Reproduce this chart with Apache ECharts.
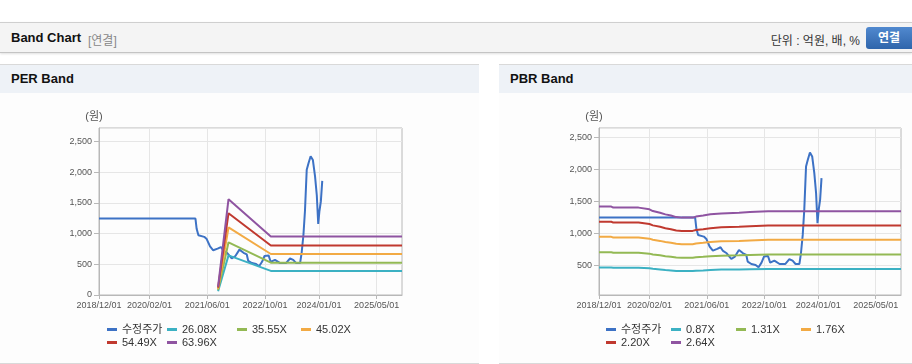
<!DOCTYPE html>
<html>
<head>
<meta charset="utf-8">
<script src="https://cdn.jsdelivr.net/npm/echarts@6/dist/echarts.min.js"></script>
<style>
body{margin:0;width:912px;height:364px;position:relative;overflow:hidden;background:#fff;font-family:"Liberation Sans","Noto Sans CJK KR",sans-serif;}
.topbar{position:absolute;left:0;top:22px;width:912px;height:29px;background:#f4f4f4;border-top:1px solid #cfcfcf;border-bottom:1px solid #c4c4c4;box-shadow:0 1px 2px rgba(0,0,0,.12);}
.topbar .tit{position:absolute;left:11px;top:7px;font-size:13px;font-weight:bold;color:#111;}
.topbar .sub{position:absolute;left:88px;top:8px;font-size:12px;color:#888;}
.topbar .unit{position:absolute;right:52px;top:8px;font-size:12px;color:#333;}
.topbar .btn{position:absolute;left:866px;top:4px;width:46px;height:22px;line-height:22px;text-align:center;border-radius:3px 0 0 3px;background:linear-gradient(#5189cf,#2f65ab);color:#fff;font-size:12px;font-weight:bold;}
.panel{position:absolute;top:64px;height:298px;border-top:1px solid #d9d9d9;border-bottom:1px solid #d9d9d9;background:#fdfdfd;}
.panel .hd{height:28px;background:#eef2f7;font-size:13px;font-weight:bold;color:#111;line-height:28px;padding-left:11px;}
.chart{position:absolute;left:0;top:28px;height:270px;}
</style>
</head>
<body>
<div class="topbar">
  <span class="tit">Band Chart</span><span class="sub">[연결]</span>
  <span class="unit">단위 : 억원, 배, %</span>
  <span class="btn">연결</span>
</div>
<div class="panel" style="left:0;width:479px;"><div class="hd">PER Band</div><div class="chart" id="perChart" style="width:479px;"></div></div>
<div class="panel" style="left:499px;width:413px;"><div class="hd">PBR Band</div><div class="chart" id="pbrChart" style="width:413px;"></div></div>

<script>
// x축 눈금
var xTickLabels = ['2018/12/01','2020/02/01','2021/06/01','2022/10/01','2024/01/01','2025/05/01'];
var xStart = '2018-12-01';
var xEnd = '2025-12-01';

// 수정주가
var priceDates = ['2018-12-01','2021-02-22','2021-03-04','2021-03-19','2021-05-07','2021-05-28','2021-06-25','2021-07-22','2021-08-28','2021-09-25',
	'2021-10-16','2021-11-16','2021-12-25','2022-01-25','2022-02-28','2022-04-04','2022-05-01','2022-05-13','2022-06-13','2022-07-19',
	'2022-08-13','2022-09-07','2022-09-28','2022-11-01','2022-11-19','2022-12-25','2023-02-07','2023-03-28','2023-05-01','2023-05-28',
	'2023-06-22','2023-07-25','2023-08-07','2023-08-22','2023-09-04','2023-09-19','2023-10-04','2023-10-22','2023-11-10','2023-11-28',
	'2023-12-13','2023-12-25','2024-01-04','2024-01-16','2024-01-28'];
var priceValues = [1244,1244,1078,973,947,911,791,728,755,781,
	723,687,598,635,739,687,661,557,520,505,
	469,541,635,645,541,573,520,520,594,573,
	520,520,687,973,1364,2041,2145,2260,2198,1937,
	1625,1156,1364,1520,1859];

// PER 밴드
var perNames = ['26.08X','35.55X','45.02X','54.49X','63.96X'];
var perDates = ['2021-09-01','2021-11-28','2022-11-20','2025-12-01'];
var per2608 = [62, 645, 392, 392];
var per3555 = [80, 858, 527, 527];
var per4502 = [100, 1100, 668, 668];
var per5449 = [120, 1332, 806, 806];
var per6396 = [138, 1561, 951, 951];

// PBR 밴드
var pbrNames = ['0.87X','1.31X','1.76X','2.20X','2.64X'];
var pbrDates = ['2018-12-01','2019-03-15','2019-04-01','2019-11-01','2019-11-15','2020-02-01','2020-03-01','2020-05-01','2020-06-15','2020-08-01',
	'2020-09-15','2020-11-01','2021-02-01','2021-03-01','2021-05-01','2021-07-01','2021-10-01','2022-03-01','2022-06-01','2022-11-01','2025-12-01'];
var pbr087 = [466,466,461,461,455,452,444,435,426,420,412,410,410,415,420,426,432,435,438,443,443];
var pbr131 = [702,702,694,694,685,681,668,655,642,633,621,617,617,625,633,642,650,655,660,667,667];
var pbr176 = [943,943,933,933,920,915,898,880,862,850,834,829,829,840,850,862,873,880,887,896,896];
var pbr220 = [1179,1179,1166,1166,1151,1144,1122,1100,1078,1063,1043,1036,1036,1049,1063,1078,1091,1100,1109,1120,1120];
var pbr264 = [1415,1415,1399,1399,1381,1373,1346,1320,1294,1275,1251,1243,1243,1259,1275,1294,1309,1320,1331,1344,1344];

var colors = ['#3d72c5','#3cb1c3','#93b954','#f2aa44','#c0392f','#8f54a1'];
var fontFam = '"Liberation Sans","Noto Sans CJK KR",sans-serif';

function ts(s){
	return Date.parse(s.replace(/\//g,'-'));
}
function pairs(dates, vals){
	return dates.map(function(d,i){ return [ts(d), vals[i]]; });
}

//밴드 차트 그리기
function drawBand(domId, bandNames, bandDates, bandVals, yAxisOpt, legendLeft){
	var myChart = echarts.init(document.getElementById(domId));
	var xTicks = xTickLabels.map(ts);
	var names = ['수정주가'].concat(bandNames);
	var legendTop = [231,231,231,231,244,244];

	var series = [{
		name: '수정주가',
		type: 'line',
		symbol: 'none',
		lineStyle: {width: 2},
		data: pairs(priceDates, priceValues)
	}];
	for (var i = 0; i < bandNames.length; i++) {
		series.push({
			name: bandNames[i],
			type: 'line',
			symbol: 'none',
			lineStyle: {width: 2},
			data: pairs(bandDates, bandVals[i])
		});
	}

	var option = {
		animation: false,
		color: colors,
		textStyle: {fontFamily: fontFam},
		grid: {left: yAxisOpt.gridLeft, right: yAxisOpt.gridRight, top: 35, height: 167, show: true, borderColor: '#b8b8b8', borderWidth: 1},
		legend: names.map(function(n, k){
			return {
				data: [n],
				left: legendLeft[k],
				top: legendTop[k],
				padding: 0,
				icon: 'rect',
				itemWidth: 10,
				itemHeight: 3,
				selectedMode: false,
				textStyle: {fontSize: 11, color: '#333', fontFamily: fontFam}
			};
		}),
		xAxis: {
			type: 'value',
			min: ts(xStart),
			max: ts(xEnd),
			axisLine: {lineStyle: {color: '#b8b8b8'}},
			axisTick: {show: true, length: 4, customValues: xTicks, lineStyle: {color: '#b8b8b8'}},
			axisLabel: {
				customValues: xTicks,
				fontSize: 9,
				color: '#555',
				margin: 6,
				formatter: function(v){
					var idx = xTicks.indexOf(v);
					return idx >= 0 ? xTickLabels[idx] : '';
				}
			},
			splitLine: {show: true, lineStyle: {color: '#e6e6e6'}}
		},
		yAxis: {
			type: 'value',
			min: yAxisOpt.min,
			max: yAxisOpt.max,
			interval: yAxisOpt.interval,
			splitNumber: 5,
			name: '(원)',
			nameLocation: 'end',
			nameGap: 6,
			nameTextStyle: {fontSize: 11, color: '#555', padding: [0, 10, 0, 0]},
			axisLine: {show: true, lineStyle: {color: '#b8b8b8'}},
			axisTick: {show: true, length: 5, lineStyle: {color: '#b8b8b8'}},
			axisLabel: {fontSize: 9, color: '#555', margin: 7, showMinLabel: yAxisOpt.showMin, showMaxLabel: false},
			splitLine: {show: true, lineStyle: {color: '#e6e6e6'}}
		},
		series: series
	};
	myChart.setOption(option);
}

drawBand('perChart', perNames, perDates, [per2608, per3555, per4502, per5449, per6396],
	{min: 0, max: 2720, interval: 500, showMin: true, gridLeft: 99, gridRight: 77},
	[107, 167, 237, 301, 107, 167]);

drawBand('pbrChart', pbrNames, pbrDates, [pbr087, pbr131, pbr176, pbr220, pbr264],
	{min: 36, max: 2641, interval: null, showMin: false, gridLeft: 100, gridRight: 11},
	[107, 172, 237, 302, 107, 172]);
</script>
</body>
</html>
